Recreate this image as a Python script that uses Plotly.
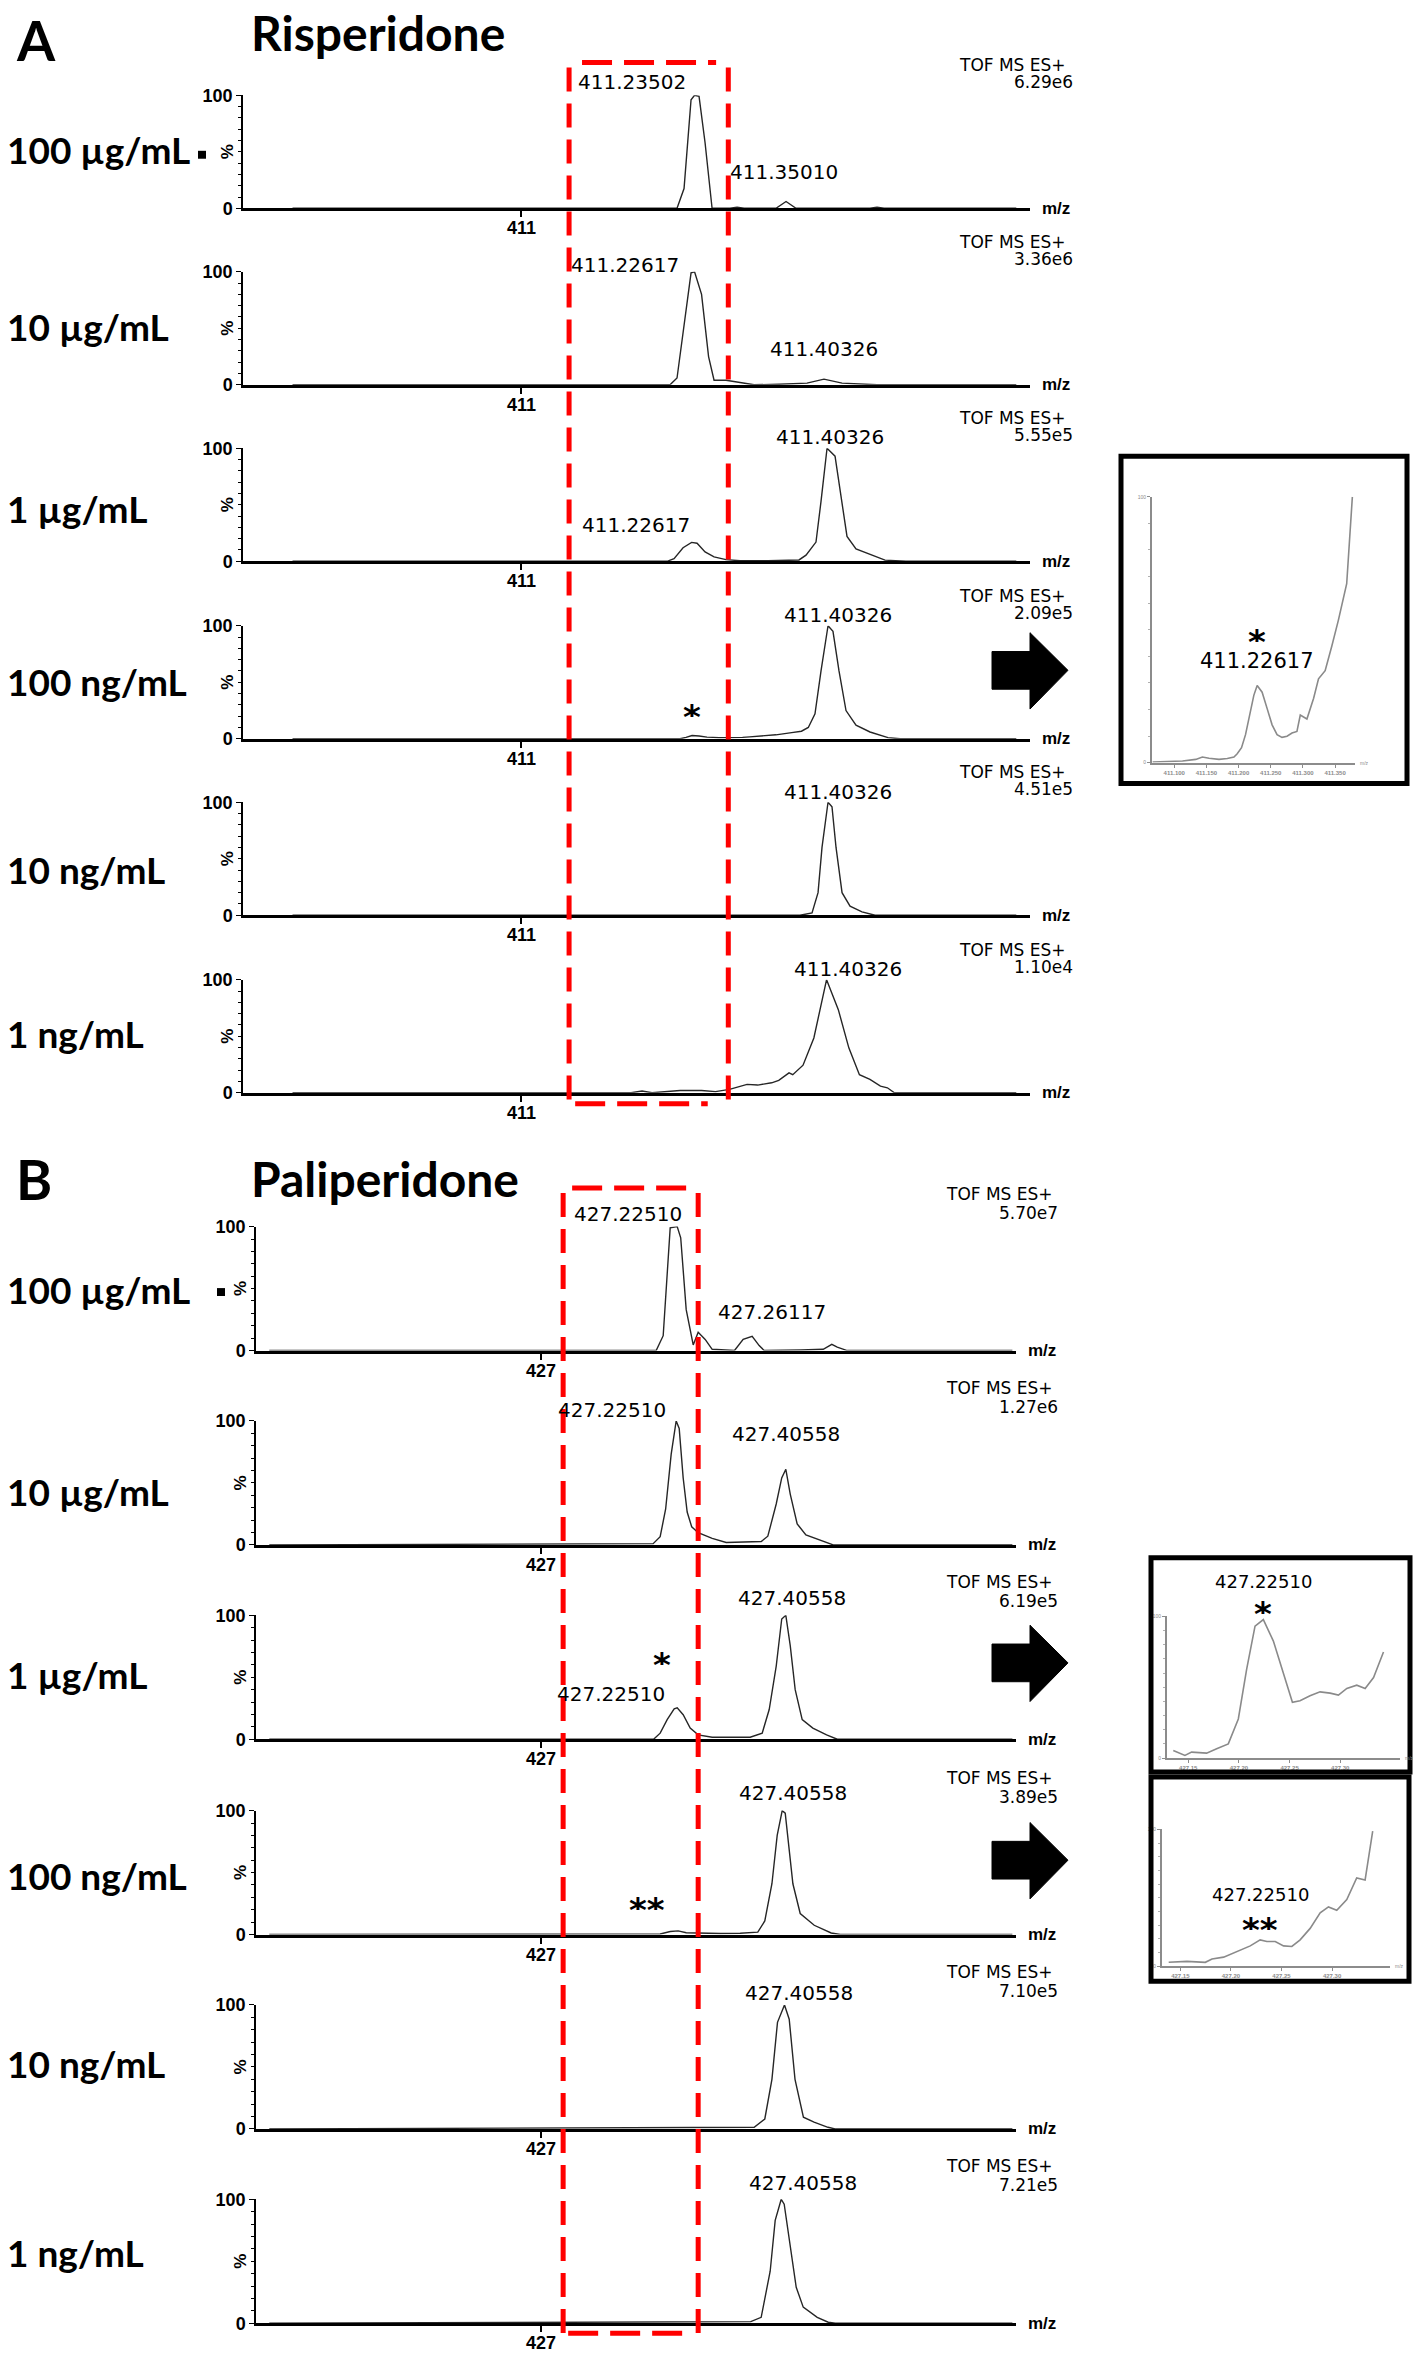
import plotly.graph_objects as go

W, H = 1418, 2362

# ---------------- data ----------------
concentrations = ["100 µg/mL", "10 µg/mL", "1 µg/mL", "100 ng/mL", "10 ng/mL", "1 ng/mL"]

# Risperidone (panel A), m/z vs relative intensity (%)
ris_100ug_mz = [410.70, 411.2047, 411.2139, 411.2231, 411.2277, 411.2336, 411.2415, 411.2507, 411.2743, 411.2835,
                411.2927, 411.3346, 411.3478, 411.3609, 411.4580, 411.4672, 411.4764, 411.65]
ris_100ug_int = [0, 0, 17.5, 96, 100, 99, 58, 0, 0, 1, 0, 0, 6, 0, 0, 1, 0, 0]

ris_10ug_mz = [410.70, 411.1955, 411.2047, 411.2139, 411.2231, 411.2277, 411.2369, 411.2461, 411.2533, 411.2690,
               411.2927, 411.3058, 411.3386, 411.3753, 411.3976, 411.4213, 411.4672, 411.65]
ris_10ug_int = [0, 0, 6, 54, 99, 100, 80, 25, 4, 4, 1.5, 0, 0.5, 1.5, 5, 1.5, 0, 0]

ris_1ug_mz = [410.70, 411.1916, 411.2008, 411.2126, 411.2238, 411.2310, 411.2415, 411.2533, 411.2690, 411.2874,
              411.3241, 411.3648, 411.3740, 411.3871, 411.3937, 411.4016, 411.4121, 411.4186, 411.4278, 411.4396,
              411.4593, 411.4777, 411.5052, 411.65]
ris_1ug_int = [0, 0, 2.4, 12, 16.7, 16, 8.3, 3.9, 1.5, 0.5, 0.5, 1.2, 5.4, 17, 53, 100, 93, 62, 22, 11, 6, 1, 0, 0]

ris_100ng_mz = [410.70, 411.2087, 411.2165, 411.2244, 411.2336, 411.2440, 411.2598, 411.2753, 411.2907, 411.3000,
                411.3165, 411.3345, 411.3552, 411.3680, 411.3770, 411.3858, 411.3937, 411.4029, 411.4094, 411.4173,
                411.4265, 411.4396, 411.4580, 411.4816, 411.4974, 411.65]
ris_100ng_int = [0, 0, 1.2, 2.9, 2.4, 1.5, 1, 1, 1.2, 1.7, 2.4, 3.5, 5.4, 6.7, 10, 22, 60, 100, 95, 60, 25, 12, 6, 1, 0, 0]

ris_10ng_mz = [410.70, 411.3661, 411.3819, 411.3898, 411.3950, 411.4029, 411.4081, 411.4134, 411.4213, 411.4318,
               411.4475, 411.4646, 411.65]
ris_10ng_int = [0, 0, 2, 20, 60, 100, 96, 60, 20, 8, 3, 0, 0]

ris_1ng_mz = [410.70, 411.1444, 411.1588, 411.1719, 411.2087, 411.2369, 411.2552, 411.2736, 411.2966, 411.3105,
              411.3289, 411.3382, 411.3517, 411.3566, 411.3701, 411.3843, 411.4010, 411.4164, 411.4302, 411.4441,
              411.4579, 411.4717, 411.4808, 411.4900, 411.65]
ris_1ng_int = [0, 0, 1.5, 0, 2, 2, 1, 3, 7.4, 6.8, 8.8, 10.9, 17.6, 16, 24.4, 48.5, 100, 73.5, 39.7, 16, 11.8, 5.9,
               4.4, 0, 0]

ris_scale = ["6.29e6", "3.36e6", "5.55e5", "2.09e5", "4.51e5", "1.10e4"]

# Paliperidone (panel B)
pal_100ug_mz = [426.55, 427.1000, 427.1374, 427.1700, 427.1904, 427.2020, 427.2136, 427.2252, 427.2310, 427.2401,
                427.2517, 427.2599, 427.2715, 427.2831, 427.3200, 427.3344, 427.3493, 427.3609, 427.3692, 427.4300,
                427.4669, 427.4811, 427.4901, 427.5066, 427.78]
pal_100ug_int = [0, 0, 0.6, 0, 0, 12, 99, 100, 91, 33, 4.5, 14.7, 9, 1, 0, 9, 11.5, 4, 0, 0.5, 1, 5, 2.7, 0, 0]

pal_10ug_mz = [426.55, 427.1854, 427.1970, 427.2061, 427.2152, 427.2235, 427.2285, 427.2351, 427.2417, 427.2492,
               427.2599, 427.2831, 427.3063, 427.3642, 427.3752, 427.3891, 427.3982, 427.4050, 427.4123, 427.4238,
               427.4382, 427.4669, 427.4834, 427.78]
pal_10ug_int = [0, 1, 6.6, 29, 73, 100, 94, 54, 26.5, 14.6, 9.8, 5.3, 1.9, 2.7, 7, 33, 54, 61, 41, 17, 8, 2.7, 0, 0]

pal_1ug_mz = [426.55, 427.1861, 427.1970, 427.2086, 427.2202, 427.2252, 427.2351, 427.2467, 427.2599, 427.2831,
              427.3460, 427.3659, 427.3775, 427.3891, 427.3982, 427.4050, 427.4123, 427.4205, 427.4321, 427.4497,
              427.4725, 427.4901, 427.78]
pal_1ug_int = [0, 0, 4.9, 15.8, 24.5, 25.3, 19.8, 9, 3.5, 1.6, 1.6, 4.9, 24, 59, 97, 100, 75.5, 40, 15.8, 9, 3.5, 0, 0]

pal_100ng_mz = [426.55, 427.1970, 427.2136, 427.2268, 427.2401, 427.2632, 427.2964, 427.3295, 427.3586, 427.3702,
                427.3820, 427.3907, 427.3990, 427.4040, 427.4106, 427.4167, 427.4288, 427.4520, 427.4801, 427.4950,
                427.78]
pal_100ng_int = [0, 0.5, 2.5, 3, 1.5, 1, 0.8, 1, 2, 11, 41, 80, 100, 98, 70, 41, 17, 7.5, 1.3, 0, 0]

pal_10ng_mz = [426.55, 427.3526, 427.3702, 427.3820, 427.3912, 427.4028, 427.4106, 427.4202, 427.4341, 427.4517,
               427.4748, 427.4864, 427.78]
pal_10ng_int = [0, 1.3, 8, 40, 86, 100, 88.5, 40, 9.4, 5.4, 1.3, 0, 0]

pal_1ng_mz = [426.55, 427.3470, 427.3642, 427.3791, 427.3874, 427.3974, 427.4023, 427.4106, 427.4222, 427.4338,
              427.4570, 427.4752, 427.4868, 427.78]
pal_1ng_int = [0, 1.3, 4.8, 42, 83, 100, 96, 69, 29, 13, 4.8, 0.8, 0, 0]

pal_scale = ["5.70e7", "1.27e6", "6.19e5", "3.89e5", "7.10e5", "7.21e5"]

# Zoomed insets
insA_mz = [411.0665, 411.1129, 411.1335, 411.1438, 411.1541, 411.1696, 411.1825, 411.1928, 411.1979, 411.2046,
           411.2108, 411.2186, 411.2237, 411.2289, 411.2366, 411.2443, 411.2521, 411.2598, 411.2675, 411.2753,
           411.2830, 411.2907, 411.2959, 411.3062, 411.3165, 411.3242, 411.3345, 411.3448, 411.3552, 411.3680,
           411.3768]
insA_int = [0.2, 0.6, 1.2, 2.1, 1.6, 1.2, 1.5, 2.1, 3.3, 5.6, 10.5, 19.1, 25.3, 29.0, 26.5, 20.4, 14.2, 10.5, 9.5,
            9.9, 11.1, 11.7, 17.9, 16.4, 24.1, 31.5, 34.6, 43.8, 53.7, 67.3, 100]
insA_ticks = [411.10, 411.15, 411.20, 411.25, 411.30, 411.35]

insB1_mz = [427.1352, 427.1467, 427.1533, 427.1681, 427.1780, 427.1895, 427.1994, 427.2076, 427.2159, 427.2241,
            427.2340, 427.2439, 427.2528, 427.2603, 427.2702, 427.2801, 427.2900, 427.2982, 427.3065, 427.3163,
            427.3246, 427.3329, 427.3427]
insB1_int = [5.4, 1.9, 4.2, 3.5, 6.5, 10.0, 27.6, 62.6, 93.0, 97.7, 82.5, 60.3, 39.3, 40.4, 43.9, 46.7, 45.8, 44.4,
             49.1, 51.4, 49.1, 56.8, 74.8]

insB2_mz = [427.1385, 427.1566, 427.1747, 427.1813, 427.1928, 427.2092, 427.2191, 427.2289, 427.2355, 427.2438,
            427.2520, 427.2602, 427.2684, 427.2783, 427.2882, 427.2964, 427.3046, 427.3145, 427.3243, 427.3326,
            427.3401]
insB2_int = [2.9, 3.6, 2.9, 5.3, 6.7, 11.6, 14.9, 19.3, 18.1, 18.1, 14.9, 14.5, 19.3, 27.7, 39.0, 43.4, 41.0, 48.7,
             64.6, 63.1, 98.8]
insB_ticks = [427.15, 427.20, 427.25, 427.30]

# peak labels: (spectrum index, text, peak m/z, peak intensity)
ris_peaks = [(0, "411.23502", 411.2277, 100), (0, "411.35010", 411.3478, 6),
             (1, "411.22617", 411.2277, 100), (1, "411.40326", 411.3976, 5),
             (2, "411.22617", 411.2238, 16.7), (2, "411.40326", 411.4016, 100),
             (3, "411.40326", 411.4029, 100), (4, "411.40326", 411.4029, 100),
             (5, "411.40326", 411.4010, 100)]
pal_peaks = [(0, "427.22510", 427.2252, 100), (0, "427.26117", 427.2599, 14.7),
             (1, "427.22510", 427.2235, 100), (1, "427.40558", 427.4050, 61),
             (2, "427.22510", 427.2252, 25.3), (2, "427.40558", 427.4050, 100),
             (3, "427.40558", 427.3990, 100), (4, "427.40558", 427.4028, 100),
             (5, "427.40558", 427.3974, 100)]

# ---------------- placement / style ----------------
ris_peak_pos = [("right", -7, 13), ("center", -2, 30), ("right", -14, 7), ("center", 0, 30), ("right", 0, 17),
                ("center", 3, 11), ("center", 10, 11), ("center", 10, 10), ("center", 21, 11)]
pal_peak_pos = [("right", 7, 13), ("left", 18, 20), ("right", -8, 11), ("center", 0, 35), ("right", -10, 14),
                ("center", 6, 17), ("center", 11, 18), ("center", 14, 12), ("center", 22, 16)]

ris_spectra = [(ris_100ug_mz, ris_100ug_int), (ris_10ug_mz, ris_10ug_int), (ris_1ug_mz, ris_1ug_int),
               (ris_100ng_mz, ris_100ng_int), (ris_10ng_mz, ris_10ng_int), (ris_1ng_mz, ris_1ng_int)]
pal_spectra = [(pal_100ug_mz, pal_100ug_int), (pal_10ug_mz, pal_10ug_int), (pal_1ug_mz, pal_1ug_int),
               (pal_100ng_mz, pal_100ng_int), (pal_10ng_mz, pal_10ng_int), (pal_1ng_mz, pal_1ng_int)]


def px(x):
    return x / W


def py(y):
    return 1 - y / H


BIG = "Lato"
LBL = "DejaVu Sans"
AX = "Liberation Sans"
PEAK_SIZE = 20
TOF_SIZE = 17
STAR_BOX = 20  # compact box for asterisks (glyph sits in the top part of its line box)

fig = go.Figure()
layout = dict(width=W, height=H, margin=dict(l=0, r=0, t=0, b=0), paper_bgcolor="white",
              plot_bgcolor="rgba(0,0,0,0)", showlegend=False)
annotations = []
shapes = []


def ax_names(i):
    return ("xaxis" if i == 1 else f"xaxis{i}", "yaxis" if i == 1 else f"yaxis{i}",
            "x" if i == 1 else f"x{i}", "y" if i == 1 else f"y{i}")


def star_ann(text, xref, yref, x, y, dx, dy):
    return dict(text=text, xref=xref, yref=yref, x=x, y=y, xanchor="center", yanchor="middle",
                xshift=dx, yshift=dy + 10, height=STAR_BOX, valign="top", showarrow=False,
                font=dict(family=LBL, size=34, color="black", weight="bold"))


panels = [
    dict(spectra=ris_spectra, peaks=ris_peaks, pos=ris_peak_pos, scale=ris_scale, xr=[410.635, 411.668],
         xpx=[243, 1030], bottoms=[200, 378, 556, 735, 913, 1092], hgt=114, tick=411,
         tof_dx=(38, 45), tof_dy=(30, 13)),
    dict(spectra=pal_spectra, peaks=pal_peaks, pos=pal_peak_pos, scale=pal_scale, xr=[426.528, 427.786],
         xpx=[256, 1016], bottoms=[1352, 1548, 1744, 1941, 2137, 2333], hgt=125, tick=427,
         tof_dx=(39, 44), tof_dy=(33, 14)),
]

idx = 0
for p_i, P in enumerate(panels):
    base = idx
    for k, (mz, inten) in enumerate(P["spectra"]):
        idx += 1
        xa, ya, xr_, yr_ = ax_names(idx)
        bot = P["bottoms"][k]
        top = bot - P["hgt"]
        layout[xa] = dict(domain=[px(P["xpx"][0]), px(P["xpx"][1])], range=P["xr"], anchor=yr_,
                          showline=True, linecolor="black", linewidth=3, ticks="outside", ticklen=6,
                          tickwidth=1.5, tickcolor="black", tickvals=[P["tick"]], showticklabels=False,
                          showgrid=False, zeroline=False, fixedrange=True)
        layout[ya] = dict(domain=[py(bot), py(top)], range=[0, 100], anchor=xr_,
                          showline=True, linecolor="black", linewidth=1.5, ticks="outside", ticklen=5,
                          tickwidth=1.2, tickcolor="black", tickvals=[0, 100], ticktext=["0", "100"],
                          tickfont=dict(family=AX, size=18, color="black", weight="bold"),
                          minor=dict(tickvals=list(range(10, 100, 10)), ticks="outside", ticklen=3,
                                     tickcolor="black", tickwidth=1),
                          showgrid=False, zeroline=False, fixedrange=True)
        fig.add_trace(go.Scatter(x=mz, y=inten, mode="lines", line=dict(color="#262626", width=1.4),
                                 xaxis=xr_, yaxis=yr_, cliponaxis=False, hoverinfo="skip"))
        # x tick label, close under the axis
        annotations.append(dict(text=str(P["tick"]), xref=xr_, yref=f"{yr_} domain", x=P["tick"], y=0,
                                xanchor="center", yanchor="top", yshift=-8, showarrow=False,
                                font=dict(family=AX, size=18, color="black", weight="bold")))
        annotations.append(dict(text="%", xref=f"{xr_} domain", yref=f"{yr_} domain", x=0, y=0.5,
                                xanchor="right", yanchor="middle", xshift=-4, textangle=-90, showarrow=False,
                                font=dict(family=AX, size=17, color="black", weight="bold")))
        annotations.append(dict(text="m/z", xref=f"{xr_} domain", yref=yr_, x=1, y=0, xanchor="left",
                                yanchor="middle", xshift=10, showarrow=False,
                                font=dict(family=AX, size=17, color="black", weight="bold")))
        annotations.append(dict(text="TOF MS ES+", xref=f"{xr_} domain", yref=f"{yr_} domain", x=1, y=1,
                                xanchor="right", yanchor="middle", xshift=P["tof_dx"][0], yshift=P["tof_dy"][0],
                                showarrow=False, font=dict(family=LBL, size=TOF_SIZE, color="black")))
        annotations.append(dict(text=P["scale"][k], xref=f"{xr_} domain", yref=f"{yr_} domain", x=1, y=1,
                                xanchor="right", yanchor="middle", xshift=P["tof_dx"][1], yshift=P["tof_dy"][1],
                                showarrow=False, font=dict(family=LBL, size=TOF_SIZE, color="black")))
    for (k, text, mzp, ip), (anc, dx, dy) in zip(P["peaks"], P["pos"]):
        _, _, xr_, yr_ = ax_names(base + k + 1)
        annotations.append(dict(text=text, xref=xr_, yref=yr_, x=mzp, y=ip, xanchor=anc, yanchor="middle",
                                xshift=dx, yshift=dy, showarrow=False,
                                font=dict(family=LBL, size=PEAK_SIZE, color="black")))

# asterisks on main spectra
stars = [(4, "*", 411.2244, 2.9, 0, 19), (9, "*", 427.2252, 25.3, -15, 43), (10, "**", 427.2268, 3, -31, 21)]
for ai, s, mzp, ip, dx, dy in stars:
    _, _, xr_, yr_ = ax_names(ai)
    annotations.append(star_ann(s, xr_, yr_, mzp, ip, dx, dy))

# ---------------- insets ----------------
insets = [
    dict(mz=insA_mz, it=insA_int, xr=[411.0655, 411.3809], xpx=[1152, 1355], ypx=[491, 759], ticks=insA_ticks,
         fmt="{:.3f}", box=[1121, 450, 1407, 780], label="411.22617", star="*", pk=(411.2289, 29.0),
         ldy=25, sdy=44, lsize=21),
    dict(mz=insB1_mz, it=insB1_int, xr=[427.129, 427.359], xpx=[1167, 1400], ypx=[1620, 1763], ticks=insB_ticks,
         fmt="{:.2f}", box=[1151, 1561, 1410, 1777], label="427.22510", star="*", pk=(427.2241, 97.7),
         ldy=38, sdy=6, lsize=18),
    dict(mz=insB2_mz, it=insB2_int, xr=[427.1319, 427.3572], xpx=[1162, 1390], ypx=[1835, 1973],
         ticks=insB_ticks, fmt="{:.2f}", box=[1151, 1782, 1409, 1988], label="427.22510", star="**",
         pk=(427.2289, 19.3), ldy=45, sdy=10, lsize=18),
]
for I in insets:
    idx += 1
    xa, ya, xr_, yr_ = ax_names(idx)
    layout[xa] = dict(domain=[px(I["xpx"][0]), px(I["xpx"][1])], range=I["xr"], anchor=yr_, showline=True,
                      linecolor="#8c8c8c", linewidth=2, ticks="outside", ticklen=3, tickcolor="#8c8c8c",
                      tickvals=I["ticks"], ticktext=[I["fmt"].format(t) for t in I["ticks"]],
                      tickfont=dict(family=AX, size=6, color="#8c8c8c", weight="bold"),
                      showgrid=False, zeroline=False, fixedrange=True)
    layout[ya] = dict(domain=[py(I["ypx"][1]), py(I["ypx"][0])], range=[0, 100], anchor=xr_, showline=True,
                      linecolor="#8c8c8c", linewidth=2, ticks="outside", ticklen=3, tickcolor="#8c8c8c",
                      tickvals=[0, 100], ticktext=["0", "100"],
                      tickfont=dict(family=AX, size=5, color="#8c8c8c"),
                      minor=dict(tickvals=list(range(10, 100, 10)), ticks="outside", ticklen=2,
                                 tickcolor="#b0b0b0"),
                      showgrid=False, zeroline=False, fixedrange=True)
    fig.add_trace(go.Scatter(x=I["mz"], y=I["it"], mode="lines", line=dict(color="#8a8a8a", width=1.6),
                             xaxis=xr_, yaxis=yr_, cliponaxis=False, hoverinfo="skip"))
    annotations.append(dict(text=I["label"], xref=xr_, yref=yr_, x=I["pk"][0], y=I["pk"][1], xanchor="center",
                            yanchor="middle", yshift=I["ldy"], showarrow=False,
                            font=dict(family=LBL, size=I["lsize"], color="black")))
    annotations.append(star_ann(I["star"], xr_, yr_, I["pk"][0], I["pk"][1], 0, I["sdy"]))
    annotations.append(dict(text="m/z", xref=f"{xr_} domain", yref=yr_, x=1, y=0, xanchor="left",
                            yanchor="middle", xshift=3, showarrow=False,
                            font=dict(family=AX, size=5, color="#8c8c8c")))
    b = I["box"]
    shapes.append(dict(type="rect", xref="paper", yref="paper", x0=px(b[0]), x1=px(b[2]), y0=py(b[3]),
                       y1=py(b[1]), line=dict(color="black", width=5), fillcolor="rgba(0,0,0,0)"))

# ---------------- red dashed boxes ----------------
red = dict(color="#ff0000", width=5, dash="24px,12px")
red_h = dict(color="#ff0000", width=5, dash="30px,12px")
for xref, xl, xrr, top, bot, tl, tr, bl, br in [("x", 411.063, 411.272, 53, 1103, 411.080, 411.256, 411.071, 411.245),
                                               ("x7", 427.0364, 427.2599, 1188, 2343, 427.0513, 427.2483, 427.0447,
                                                427.2368)]:
    for xv in (xl, xrr):
        shapes.append(dict(type="line", xref=xref, yref="paper", x0=xv, x1=xv, y0=py(top + 5), y1=py(bot),
                           line=red))
    shapes.append(dict(type="line", xref=xref, yref="paper", x0=tl, x1=tr, y0=py(top), y1=py(top), line=red_h))
    shapes.append(dict(type="line", xref=xref, yref="paper", x0=bl, x1=br, y0=py(bot), y1=py(bot), line=red_h))

# ---------------- arrows ----------------
for cy in (666, 1667, 1866):
    pts = [(992, cy - 19), (1030, cy - 19), (1030, cy - 38), (1068, cy), (1030, cy + 39), (1030, cy + 19),
           (992, cy + 19)]
    path = "M " + " L ".join(f"{px(x):.5f},{py(y):.5f}" for x, y in pts) + " Z"
    shapes.append(dict(type="path", xref="paper", yref="paper", path=path, fillcolor="black",
                       line=dict(color="black", width=1)))

# small squares after "100 µg/mL"
for cx, cy in ((202, 146), (221, 1293)):
    shapes.append(dict(type="rect", xref="paper", yref="paper", x0=px(cx - 4), x1=px(cx + 4), y0=py(cy + 4),
                       y1=py(cy - 4), fillcolor="black", line=dict(width=0)))

# ---------------- big labels ----------------
conc_y = [[141, 319, 503, 677, 867, 1032], [1290, 1494, 1679, 1881, 2071, 2262]]
for ys in conc_y:
    for c, yv in zip(concentrations, ys):
        annotations.append(dict(text=c, xref="paper", yref="paper", x=px(5), y=py(yv), xanchor="left",
                                yanchor="middle", showarrow=False,
                                font=dict(family=BIG, size=37, color="black", weight="bold")))
for t, xv, yv, sz in (("A", 14, 30, 55), ("B", 14, 1179, 55), ("Risperidone", 249, 23, 48),
                      ("Paliperidone", 249, 1178, 48)):
    annotations.append(dict(text=t, xref="paper", yref="paper", x=px(xv), y=py(yv), xanchor="left",
                            yanchor="middle", showarrow=False,
                            font=dict(family=BIG, size=sz, color="black", weight="bold")))

layout["annotations"] = annotations
layout["shapes"] = shapes
fig.update_layout(**layout)
fig.write_html("out.html", config={"displayModeBar": False},
               post_script="document.body.style.margin='0px';document.body.style.overflow='hidden';")
